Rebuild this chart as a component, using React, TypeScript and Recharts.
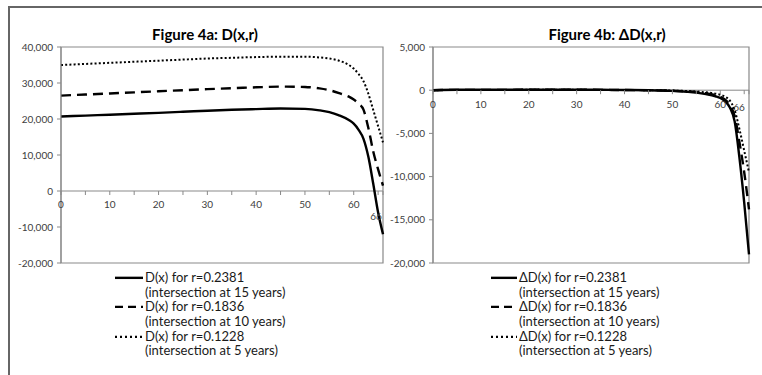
import { LineChart, Line, XAxis, YAxis, ReferenceArea, ReferenceDot, ReferenceLine } from 'recharts';

const AGES = [0, 5, 10, 15, 20, 25, 30, 35, 40, 45, 50, 53, 55, 57, 59, 60, 61, 62, 63, 64, 65, 66];

// Figure 4a: D(x,r)
const D_R2381 = [20700, 20950, 21200, 21450, 21700, 22000, 22300, 22550, 22750, 22900, 22800, 22400, 21900, 21000, 19700, 18700, 17000, 14500, 9500, 2000, -6000, -12000];
const D_R1836 = [26500, 26800, 27100, 27400, 27700, 28000, 28300, 28550, 28800, 29000, 28900, 28500, 28000, 27200, 26200, 25400, 24300, 22600, 17500, 11000, 6000, 1500];
const D_R1228 = [35000, 35300, 35600, 35900, 36200, 36500, 36800, 37000, 37200, 37300, 37300, 37100, 36800, 36200, 35000, 34000, 32500, 30500, 27000, 22500, 18000, 13500];

// Figure 4b: ΔD(x,r)
const DD_R2381 = [0, 50, 50, 50, 60, 60, 60, 50, 30, 0, -80, -180, -280, -450, -700, -900, -1300, -2000, -3600, -7800, -13000, -19000];
const DD_R1836 = [0, 40, 40, 40, 50, 50, 50, 40, 20, 0, -60, -140, -220, -360, -580, -760, -1100, -1700, -3000, -6000, -9500, -13800];
const DD_R1228 = [0, 30, 30, 30, 40, 40, 40, 30, 20, 0, -40, -90, -150, -250, -400, -530, -750, -1200, -2300, -4500, -7000, -9500];

const X_TICKS = [0, 5, 10, 15, 20, 25, 30, 35, 40, 45, 50, 55, 60, 65];
const X_LABELS = [0, 10, 20, 30, 40, 50, 60];
const LAST_AGE = 66;
const LEFT_Y_TICKS = [-20000, -10000, 0, 10000, 20000, 30000, 40000];
const RIGHT_Y_TICKS = [-20000, -15000, -10000, -5000, 0, 5000];

const SERIES = [
  { key: 'r2381', r: '0.2381', years: 15, dash: undefined as string | undefined, legendDash: undefined as string | undefined },
  { key: 'r1836', r: '0.1836', years: 10, dash: '10 6', legendDash: '8 5' },
  { key: 'r1228', r: '0.1228', years: 5, dash: '2 2.2', legendDash: '2 3' },
];

const leftData = AGES.map((age, i) => ({ age, r2381: D_R2381[i], r1836: D_R1836[i], r1228: D_R1228[i] }));
const rightData = AGES.map((age, i) => ({ age, r2381: DD_R2381[i], r1836: DD_R1836[i], r1228: DD_R1228[i] }));

const AXIS_GREY = '#898989';
const TICK_TEXT = '#404040';

function axisTick(label: string | null, dx: number, dy: number, labelDy: number) {
  return (p: any) => (
    <g>
      <line x1={p.cx} x2={p.cx} y1={p.cy} y2={p.cy + 4} stroke={AXIS_GREY} strokeWidth={1} />
      {label !== null && (
        <text x={p.cx + dx} y={p.cy + labelDy + dy} textAnchor="middle" fontSize={10} fill={TICK_TEXT}>
          {label}
        </text>
      )}
    </g>
  );
}

interface PanelProps {
  data: typeof leftData;
  yTicks: number[];
  width: number;
  marginRight: number;
  lastDx: number;
  lastDy: number;
  labelDy: number;
}

function Panel({ data, yTicks, width, marginRight, lastDx, lastDy, labelDy }: PanelProps) {
  const yMin = yTicks[0];
  const yMax = yTicks[yTicks.length - 1];
  return (
    <LineChart width={width} height={270} data={data} margin={{ top: 47, right: marginRight, bottom: 7, left: 0 }}>
      <XAxis dataKey="age" type="number" domain={[0, LAST_AGE]} hide />
      <YAxis
        type="number"
        domain={[yMin, yMax]}
        ticks={yTicks}
        width={50}
        interval={0}
        tickFormatter={(v: number) => v.toLocaleString('en-US')}
        tick={{ fontSize: 10, fill: TICK_TEXT }}
        tickSize={4}
        tickMargin={4}
        axisLine={{ stroke: AXIS_GREY }}
        tickLine={{ stroke: AXIS_GREY }}
      />
      <ReferenceArea x1={0} x2={LAST_AGE} y1={yMin} y2={yMax} fill="none" stroke={AXIS_GREY} strokeWidth={1.2} ifOverflow="visible" />
      <ReferenceLine y={0} stroke={AXIS_GREY} strokeWidth={1} />
      {X_TICKS.map((t) => (
        <ReferenceDot
          key={t}
          x={t}
          y={0}
          r={0}
          ifOverflow="visible"
          shape={axisTick(X_LABELS.includes(t) ? String(t) : null, 0, 0, labelDy)}
        />
      ))}
      <ReferenceDot x={LAST_AGE} y={0} r={0} ifOverflow="visible" shape={axisTick(String(LAST_AGE), lastDx, lastDy, labelDy)} />
      {SERIES.map((s) => (
        <Line
          key={s.key}
          type="monotone"
          dataKey={s.key}
          stroke="#000"
          strokeWidth={s.key === 'r1228' ? 2 : 2.4}
          strokeDasharray={s.dash}
          dot={false}
          isAnimationActive={false}
        />
      ))}
    </LineChart>
  );
}

function LegendBlock({ prefix, left, textLeft }: { prefix: string; left: number; textLeft: number }) {
  const rowH = 14.7;
  return (
    <div style={{ position: 'absolute', left, top: 270, fontSize: 13, color: '#1a1a1a', lineHeight: `${rowH}px` }}>
      {SERIES.map((s) => (
        <div key={s.key} style={{ position: 'relative', height: rowH * 2 }}>
          <svg width={textLeft - left} height={rowH} style={{ position: 'absolute', left: 0, top: 0 }}>
            <line
              x1={1}
              x2={textLeft - left - 2}
              y1={rowH / 2 + 0.5}
              y2={rowH / 2 + 0.5}
              stroke="#000"
              strokeWidth={2.4}
              strokeDasharray={s.legendDash}
            />
          </svg>
          <div style={{ position: 'absolute', left: textLeft - left, top: 0, whiteSpace: 'nowrap' }}>
            {`${prefix}(x) for r=${s.r}`}
          </div>
          <div style={{ position: 'absolute', left: textLeft - left, top: rowH, whiteSpace: 'nowrap' }}>
            {`(intersection at ${s.years} years)`}
          </div>
        </div>
      ))}
    </div>
  );
}

export default function App() {
  return (
    <div
      style={{
        position: 'absolute',
        left: 0,
        top: 0,
        width: 762,
        height: 375,
        overflow: 'hidden',
        background: '#fff',
        fontFamily: 'Lato, "Open Sans", sans-serif',
      }}
    >
      <div style={{ position: 'absolute', left: 8, top: 6, width: 800, height: 400, border: '2px solid #666' }} />
      <div style={{ position: 'absolute', left: 105, top: 25, width: 200, textAlign: 'center', fontWeight: 700, fontSize: 15 }}>
        Figure 4a: D(x,r)
      </div>
      <div style={{ position: 'absolute', left: 507, top: 25, width: 200, textAlign: 'center', fontWeight: 700, fontSize: 15 }}>
        Figure 4b: ΔD(x,r)
      </div>
      <div style={{ position: 'absolute', left: 11, top: 0 }}>
        <Panel data={leftData} yTicks={LEFT_Y_TICKS} width={389} marginRight={17} lastDx={-7} lastDy={12} labelDy={17} />
      </div>
      <div style={{ position: 'absolute', left: 383, top: 0 }}>
        <Panel data={rightData} yTicks={RIGHT_Y_TICKS} width={379} marginRight={13} lastDx={-10} lastDy={3} labelDy={18} />
      </div>
      <LegendBlock prefix="D" left={114} textLeft={145} />
      <LegendBlock prefix="ΔD" left={490} textLeft={519} />
    </div>
  );
}
